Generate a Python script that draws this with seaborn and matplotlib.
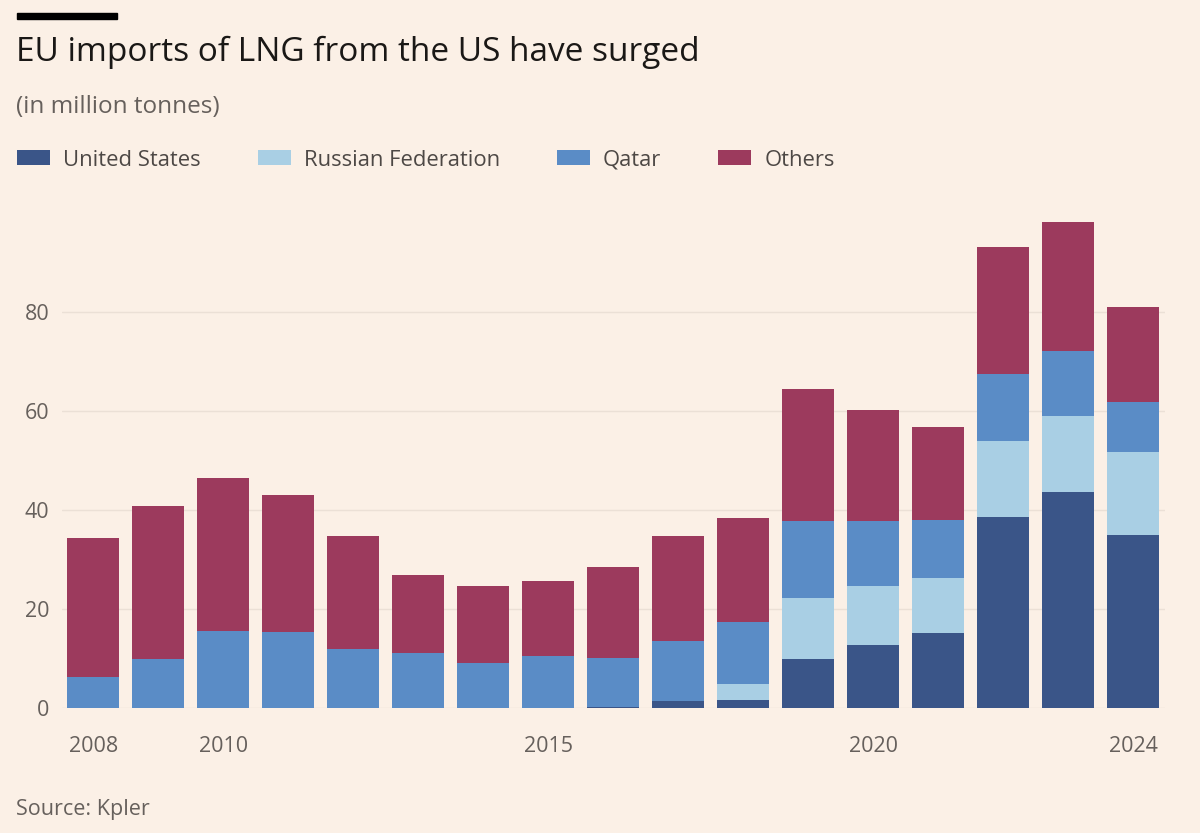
import matplotlib
matplotlib.use("Agg")
import matplotlib.pyplot as plt
from matplotlib.patches import Patch, Rectangle
import seaborn as sns
import pandas as pd
import numpy as np

years = list(range(2008, 2025))
united_states = [0, 0, 0, 0, 0, 0, 0, 0, 0.3, 1.4, 1.6, 9.8, 12.7, 15.2, 38.6, 43.6, 35.0]
russian_federation = [0, 0, 0, 0, 0, 0, 0, 0, 0, 0, 3.2, 12.5, 12.0, 11.0, 15.3, 15.4, 16.8]
qatar = [6.3, 10.0, 15.6, 15.4, 12.0, 11.1, 9.0, 10.5, 9.8, 12.1, 12.6, 15.5, 13.1, 11.8, 13.6, 13.2, 10.0]
others = [28.1, 30.8, 30.9, 27.7, 22.7, 15.7, 15.6, 15.2, 18.3, 21.2, 21.0, 26.6, 22.4, 18.7, 25.7, 26.0, 19.3]
tick_labels = ["2008", "", "2010", "", "", "", "", "2015", "", "", "", "", "2020", "", "", "", "2024"]
series_names = ["United States", "Russian Federation", "Qatar", "Others"]

BG = "#fbf0e6"
colors = {"United States": "#3a5588", "Russian Federation": "#a9cfe4",
          "Qatar": "#5a8cc6", "Others": "#9c3a5d"}
TXT = "#66605c"

sns.set_theme(style="white")
plt.rcParams["font.family"] = ["Open Sans", "DejaVu Sans"]

df = pd.DataFrame({"year": [str(y) for y in years],
                   "United States": united_states,
                   "Russian Federation": russian_federation,
                   "Qatar": qatar,
                   "Others": others})
cum = df[series_names].cumsum(axis=1)

fig = plt.figure(figsize=(12, 8.33), dpi=100, facecolor=BG)
ax = fig.add_axes([62/1200, 1 - 708/833, (1165-62)/1200, (708-213)/833])
ax.set_facecolor(BG)

for name in reversed(series_names):
    sns.barplot(x=df["year"], y=cum[name], color=colors[name], width=0.8,
                linewidth=0, saturation=1, ax=ax, zorder=3)

ax.set_xlim(-0.48, 16.49)
ax.set_ylim(0, 100)
ax.set_yticks([0, 20, 40, 60, 80])
ax.set_yticklabels(["0", "20", "40", "60", "80"])
ax.set_xticks(range(len(years)))
ax.set_xticklabels(tick_labels)
ax.set_xlabel("")
ax.set_ylabel("")
for s in ax.spines.values():
    s.set_visible(False)
ax.grid(axis="y", color="#ebe0d6", linewidth=1, zorder=0)
ax.grid(axis="x", visible=False)
ax.tick_params(axis="y", length=0, pad=9, labelsize=15.5, labelcolor=TXT)
ax.tick_params(axis="x", length=10, width=1, color="#ddd3ca", pad=10,
               labelsize=15.5, labelcolor=TXT, direction="out")

# top black bar
fig.patches.append(Rectangle((17/1200, 1 - 19/833), 100/1200, 6/833,
                             transform=fig.transFigure, color="#000000", zorder=5))

fig.text(16/1200, 1 - 52/833, "EU imports of LNG from the US have surged",
         fontsize=24, color="#1a1816", va="center", ha="left")
fig.text(16/1200, 1 - 107/833, "(in million tonnes)",
         fontsize=17.5, color=TXT, va="center", ha="left")
fig.text(16/1200, 1 - 809/833, "Source: Kpler",
         fontsize=15.5, color=TXT, va="center", ha="left")

handles = [Patch(facecolor=colors[n], edgecolor="none", label=n) for n in series_names]
leg = fig.legend(handles=handles, loc="center left", bbox_to_anchor=(17/1200, 1 - 160/833),
                 ncol=4, frameon=False, fontsize=15.8, handlelength=1.5, handleheight=0.65,
                 handletextpad=0.6, columnspacing=2.6, labelcolor="#4d4845",
                 borderpad=0, borderaxespad=0)

fig.savefig("out.png", dpi=100, facecolor=BG)
